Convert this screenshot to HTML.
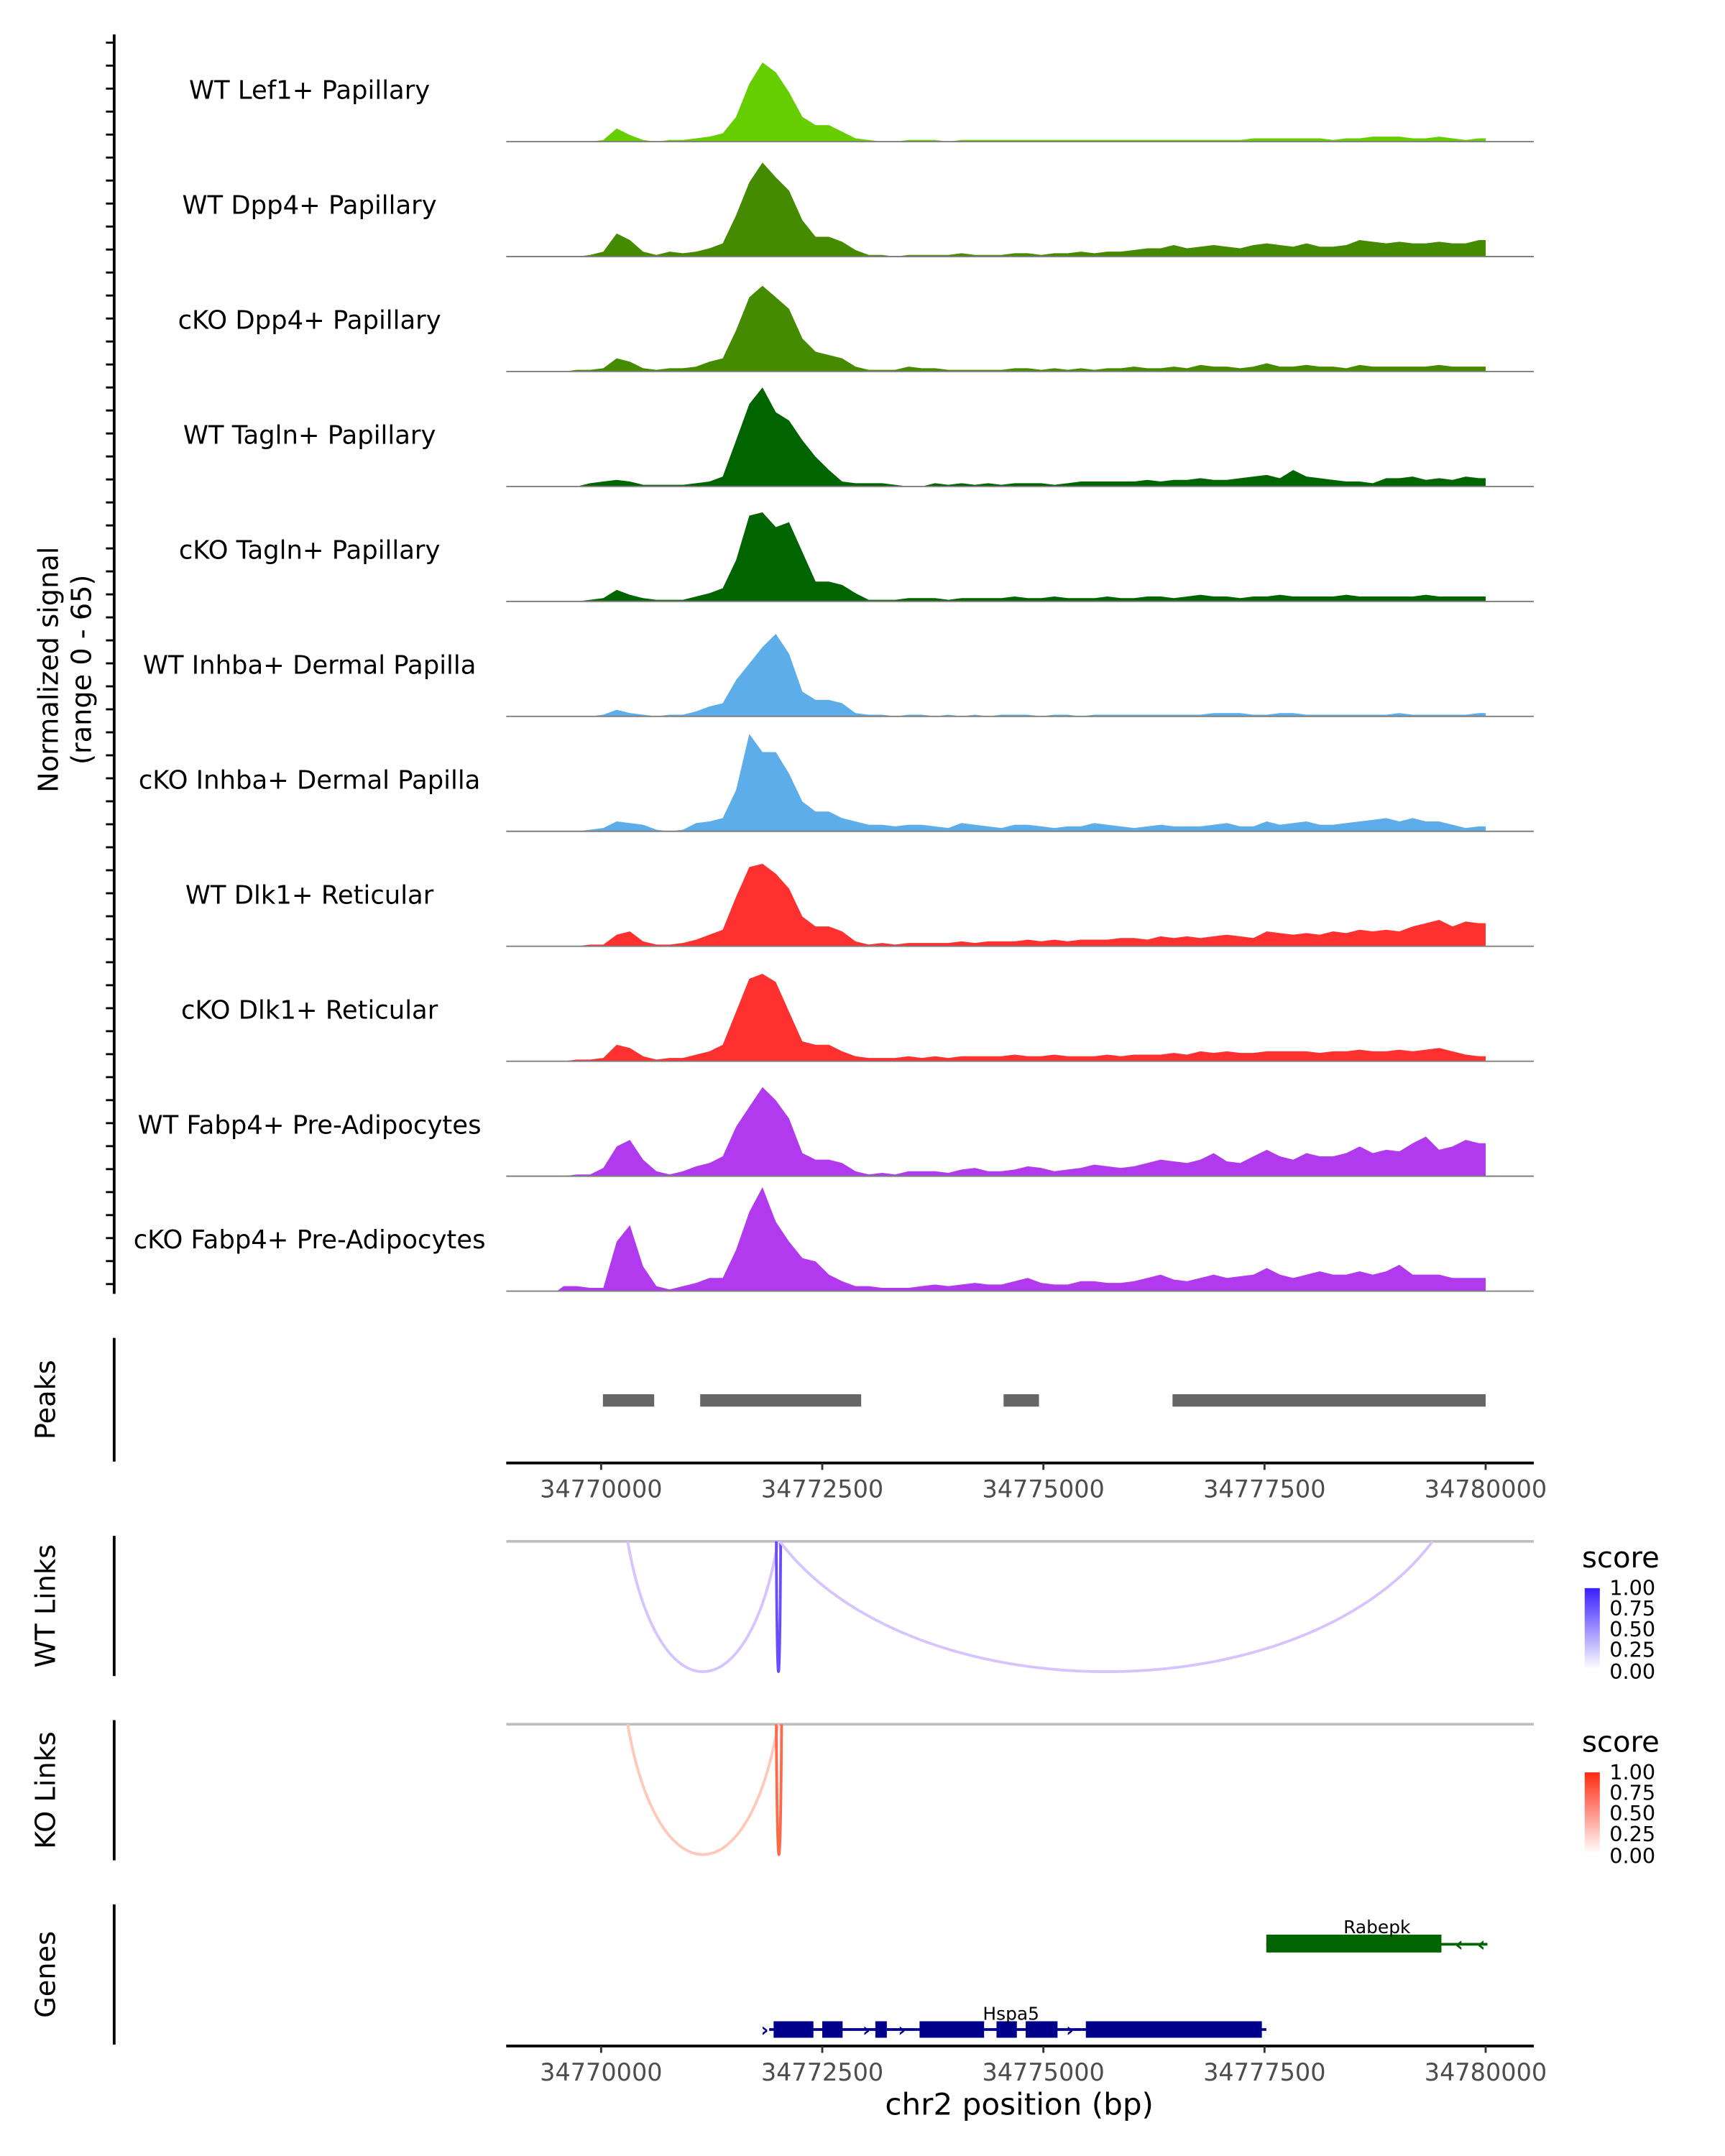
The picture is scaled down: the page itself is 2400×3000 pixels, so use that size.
<!DOCTYPE html>
<html><head><meta charset="utf-8"><style>
html,body{margin:0;padding:0;background:#fff}
svg{display:block;font-family:"DejaVu Sans","Liberation Sans",sans-serif}
</style></head><body>
<svg id="chart" width="2400" height="3000" viewBox="0 0 1254 1568" preserveAspectRatio="none" xmlns="http://www.w3.org/2000/svg">
<g id="tracks"></g>
<g id="static">
  <line x1="83" y1="25" x2="83" y2="941" stroke="#000" stroke-width="2"/>
  <g id="yticks"></g>
  <text transform="translate(42,487) rotate(-90)" text-anchor="middle" font-size="20">Normalized signal</text>
  <text transform="translate(66,487) rotate(-90)" text-anchor="middle" font-size="20">(range 0 - 65)</text>

  <line x1="83" y1="973" x2="83" y2="1063" stroke="#000" stroke-width="2"/>
  <text transform="translate(40,1018) rotate(-90)" text-anchor="middle" font-size="20">Peaks</text>
  <g id="peaks"></g>
  <g id="axis1"></g>

  <line x1="83" y1="1117" x2="83" y2="1219" stroke="#000" stroke-width="2"/>
  <text transform="translate(40,1168) rotate(-90)" text-anchor="middle" font-size="20">WT Links</text>
  <line x1="368" y1="1121" x2="1115" y2="1121" stroke="#bebebe" stroke-width="2"/>
  <g id="wtlinks"></g>

  <line x1="83" y1="1251" x2="83" y2="1353" stroke="#000" stroke-width="2"/>
  <text transform="translate(40,1302) rotate(-90)" text-anchor="middle" font-size="20">KO Links</text>
  <line x1="368" y1="1254" x2="1115" y2="1254" stroke="#bebebe" stroke-width="2"/>
  <g id="kolinks"></g>

  <defs>
    <linearGradient id="gb" x1="0" y1="1" x2="0" y2="0"><stop offset="0" stop-color="#fff"/><stop offset="1" stop-color="#3a1eff"/></linearGradient>
    <linearGradient id="gr" x1="0" y1="1" x2="0" y2="0"><stop offset="0" stop-color="#fff"/><stop offset="1" stop-color="#ff2a10"/></linearGradient>
  </defs>
  <g>
    <text x="1150" y="1140" font-size="21">score</text>
    <rect x="1152" y="1155" width="11" height="59" fill="url(#gb)"/>
    <g font-size="15">
      <text x="1170" y="1160">1.00</text><text x="1170" y="1175">0.75</text><text x="1170" y="1190">0.50</text><text x="1170" y="1205">0.25</text><text x="1170" y="1221">0.00</text>
    </g>
  </g>
  <g>
    <text x="1150" y="1274" font-size="21">score</text>
    <rect x="1152" y="1289" width="11" height="59" fill="url(#gr)"/>
    <g font-size="15">
      <text x="1170" y="1294">1.00</text><text x="1170" y="1309">0.75</text><text x="1170" y="1324">0.50</text><text x="1170" y="1339">0.25</text><text x="1170" y="1355">0.00</text>
    </g>
  </g>

  <line x1="83" y1="1385" x2="83" y2="1487" stroke="#000" stroke-width="2"/>
  <text transform="translate(40,1436) rotate(-90)" text-anchor="middle" font-size="20">Genes</text>
  <g id="genes"></g>
  <g id="axis2"></g>
  <text x="741" y="1538" text-anchor="middle" font-size="22">chr2 position (bp)</text>
</g>
</svg>
<script>
const trackNames = ["WT Lef1+ Papillary","WT Dpp4+ Papillary","cKO Dpp4+ Papillary","WT Tagln+ Papillary","cKO Tagln+ Papillary","WT Inhba+ Dermal Papilla","cKO Inhba+ Dermal Papilla","WT Dlk1+ Reticular","cKO Dlk1+ Reticular","WT Fabp4+ Pre-Adipocytes","cKO Fabp4+ Pre-Adipocytes"];
const trackColors = ["#66CD00","#458B00","#458B00","#006400","#006400","#5CADE9","#5CADE9","#FF3030","#FF3030","#B23AEE","#B23AEE"];
const binStart = 34769500;
const binSize = 150;
const sigLef1 = [0,0,0,1,8,4,1,0,1,1,2,3,5,15,35,48,42,30,15,10,10,6,2,1,0,0,1,1,1,0,1,1,1,1,1,1,1,1,1,1,1,1,1,1,1,1,1,1,1,1,1,1,2,2,2,2,2,2,1,2,2,3,3,3,2,2,3,2,1,2];
const sigWtDpp4 = [0,0,1,3,14,10,3,1,3,2,3,5,8,25,45,57,48,40,22,12,12,9,4,1,1,0,1,1,1,1,2,1,1,1,2,2,1,2,2,3,2,3,3,4,5,5,7,5,6,7,6,5,7,8,7,6,8,6,6,7,10,9,8,9,8,8,9,8,8,10];
const sigKoDpp4 = [0,1,1,2,8,6,2,1,2,2,3,6,8,25,45,52,45,38,20,12,10,8,3,1,1,1,3,2,2,1,1,1,1,1,2,2,1,2,1,2,1,2,2,3,2,2,3,2,4,3,3,2,3,5,3,3,4,3,3,2,4,3,3,3,3,3,4,3,3,3];
const sigWtTagln = [0,0,2,3,4,3,1,1,1,1,2,3,6,28,50,60,45,40,28,18,10,3,2,2,2,1,0,0,2,1,2,1,2,1,2,2,2,1,2,3,3,3,3,3,4,3,4,4,5,4,4,5,6,7,5,10,6,5,4,3,3,2,5,5,6,4,5,4,6,5];
const sigKoTagln = [0,0,1,2,7,4,2,1,1,1,3,5,8,25,52,54,45,48,30,12,12,10,5,1,1,1,2,2,2,1,2,2,2,2,3,2,2,3,2,2,2,3,2,2,3,3,2,3,4,3,3,2,3,3,4,3,3,3,3,4,3,3,3,3,3,4,3,3,3,3];
const sigWtInhba = [0,0,0,1,4,2,1,0,1,1,3,6,8,22,32,42,50,38,15,10,10,8,2,1,1,0,1,1,0,1,0,1,0,1,1,1,0,1,1,0,1,1,1,1,1,1,1,1,1,2,2,2,1,1,2,2,1,1,1,1,1,1,1,2,1,1,1,1,1,2];
const sigKoInhba = [0,0,1,2,6,5,4,1,0,1,5,6,8,25,59,48,48,35,18,12,12,8,6,4,4,3,4,4,3,2,5,4,3,2,4,4,3,2,3,3,5,4,3,2,3,4,3,3,3,4,5,3,3,6,4,5,6,4,4,5,6,7,8,6,8,6,6,4,2,3];
const sigWtDlk1 = [0,0,1,1,7,9,3,1,1,2,4,7,10,30,48,50,44,35,18,12,12,9,3,1,2,1,2,2,2,2,3,2,3,3,3,4,3,4,3,4,4,4,5,5,4,6,5,6,5,6,7,6,5,9,8,7,8,7,9,8,10,9,10,9,12,14,16,12,15,14];
const sigKoDlk1 = [0,1,1,2,10,8,3,1,2,2,4,6,10,30,50,53,48,30,12,10,10,6,3,2,2,2,3,2,3,2,3,3,3,3,4,3,3,4,3,3,3,4,3,4,4,4,5,4,6,5,6,5,5,6,6,6,6,5,6,6,7,6,6,7,6,7,8,6,4,3];
const sigWtFabp4 = [0,1,1,5,18,22,10,3,1,3,6,8,12,30,42,54,46,35,14,10,10,8,3,1,2,1,3,3,3,2,4,5,3,3,4,6,5,3,4,5,7,6,5,6,8,10,9,8,10,14,9,8,12,16,12,10,14,12,12,14,18,14,16,15,20,24,16,18,22,20];
const sigKoFabp4 = [3,3,2,2,30,40,15,3,1,3,5,8,8,25,48,63,42,30,20,18,10,6,3,3,2,2,2,3,4,3,4,5,4,4,6,8,5,4,4,6,6,5,5,6,8,10,7,6,8,10,8,9,10,14,10,8,10,12,10,10,12,10,12,16,10,10,10,8,8,8];
const signals = [sigLef1,sigWtDpp4,sigKoDpp4,sigWtTagln,sigKoTagln,sigWtInhba,sigKoInhba,sigWtDlk1,sigKoDlk1,sigWtFabp4,sigKoFabp4];
const xTicks = [34770000,34772500,34775000,34777500,34780000];
const peakStarts = [34770020,34771120,34774550,34776460];
const peakEnds = [34770600,34772940,34774950,34780000];
const wtLinkStarts = [34770300,34771980,34772020];
const wtLinkEnds = [34772000,34772030,34779400];
const wtLinkScores = [0.25,0.85,0.25];
const koLinkStarts = [34770300,34771980];
const koLinkEnds = [34772000,34772040];
const koLinkScores = [0.25,0.85];
const hspa5Exons = [[34771950,34772400],[34772500,34772730],[34773100,34773230],[34773600,34774330],[34774470,34774700],[34774800,34775160],[34775480,34777470]];
const rabepkExon = [34777520,34779500];

const NS = "http://www.w3.org/2000/svg";
const X = bp => 437 + (bp - 34770000) * 0.0643;
const SY = v => v * 1.2;
function mk(tag, attrs, parent){ const e=document.createElementNS(NS,tag); for(const k in attrs) e.setAttribute(k,attrs[k]); parent.appendChild(e); return e; }

const tracksG = document.getElementById("tracks");
trackNames.forEach((name,t)=>{
  const base = 103 + t*83.6;
  const g = mk("g",{},tracksG);
  
  
  const lab = mk("text",{x:225,y:base-31,"text-anchor":"middle","font-size":"18.5"},g);
  lab.textContent = name;
  
  
  const vals = signals[t];
  let d = "M" + X(binStart).toFixed(1) + "," + base;
  vals.forEach((v,i)=>{ const x = X(binStart + binSize*i + binSize/2); d += " L" + x.toFixed(1) + "," + (base - SY(v)).toFixed(1); });
  const endX = X(34780000).toFixed(1);
  d += " L" + endX + "," + (base - SY(vals[vals.length-1])).toFixed(1) + " L" + endX + "," + base + " Z";
  const area = mk("path",{d:d,fill:trackColors[t]},g);
  
  
  const bl = mk("line",{x1:368,x2:1115,y1:base,y2:base,stroke:"#7f7f7f","stroke-width":1},g);
  
  
});
const yt = document.getElementById("yticks");
for(let y=31; y<=941; y+=16.72){
  const tk = mk("line",{x1:77,x2:83,y1:y,y2:y,stroke:"#000","stroke-width":1.5},yt);
  
  
}
const pk = document.getElementById("peaks");
peakStarts.forEach((s,i)=>{
  const r = mk("rect",{x:X(s),y:1014,width:X(peakEnds[i])-X(s),height:9,fill:"#666"},pk);
  
  
});
function axis(id,y){
  const g = document.getElementById(id);
  const l = mk("line",{x1:368,x2:1115,y1:y,y2:y,stroke:"#000","stroke-width":2},g);
  
  
  xTicks.forEach(v=>{
    const tk = mk("line",{x1:X(v),x2:X(v),y1:y,y2:y+5,stroke:"#333","stroke-width":1.5},g);
    
    
    const tl = mk("text",{x:X(v),y:y+25,"text-anchor":"middle","font-size":"17.5",fill:"#4d4d4d"},g);
    tl.textContent = v;
    
    
  });
}
axis("axis1",1064); axis("axis2",1488);
function links(id,y0,starts,ends,scores,low,high){
  const g = document.getElementById(id);
  starts.forEach((s,i)=>{
    const x1=X(s), x2=X(ends[i]), depth=95;
    const c = scores[i] > 0.5 ? high : low;
    const p = mk("path",{d:`M${x1},${y0} C${x1+(x2-x1)*0.2},${y0+depth*1.33} ${x2-(x2-x1)*0.2},${y0+depth*1.33} ${x2},${y0}`,fill:"none",stroke:c,"stroke-width":2},g);
    
    
  });
}
links("wtlinks",1121,wtLinkStarts,wtLinkEnds,wtLinkScores,"#d6c3ff","#6a4cff");
links("kolinks",1254,koLinkStarts,koLinkEnds,koLinkScores,"#ffc8b8","#ff6848");
const gn = document.getElementById("genes");
const hl = mk("line",{x1:X(34771900),x2:X(34777520),y1:1476,y2:1476,stroke:"#00008B","stroke-width":2},gn);


hspa5Exons.forEach(e=>{
  const r = mk("rect",{x:X(e[0]),y:1470,width:X(e[1])-X(e[0]),height:12,fill:"#00008B"},gn);
  
  
});
[34771850,34773000,34773400,34775300].forEach(b=>{
  const a = mk("text",{x:X(b),y:1481,"font-size":"14","font-weight":"bold",fill:"#00008B","text-anchor":"middle"},gn);
  a.textContent = "›";
  
  
});
const ht = mk("text",{x:735,y:1469,"font-size":"13","text-anchor":"middle"},gn);
ht.textContent = "Hspa5";


const rl = mk("line",{x1:X(rabepkExon[0]),x2:X(34780020),y1:1414,y2:1414,stroke:"#006400","stroke-width":2},gn);


const rr = mk("rect",{x:X(rabepkExon[0]),y:1407,width:X(rabepkExon[1])-X(rabepkExon[0]),height:13,fill:"#006400"},gn);


[34779700,34779950].forEach(b=>{
  const a = mk("text",{x:X(b),y:1419,"font-size":"15","font-weight":"bold",fill:"#006400","text-anchor":"middle"},gn);
  a.textContent = "‹";
  
  
});
const rt = mk("text",{x:1001,y:1406,"font-size":"13","text-anchor":"middle"},gn);
rt.textContent = "Rabepk";


</script>
</body></html>
